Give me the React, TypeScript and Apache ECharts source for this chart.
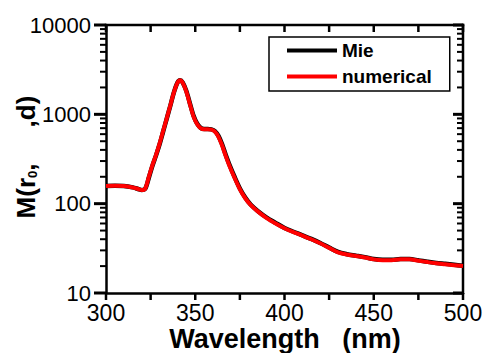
import React, { useEffect, useRef } from "react";
import * as echarts from "echarts";

const wavelength = [300, 305, 310, 315, 318, 320, 322, 324, 326, 328, 330, 332, 334, 336, 338, 340, 341.5, 343, 345, 347, 349, 351, 353, 355, 357, 359, 361, 363, 365, 367, 369, 372, 375, 378, 381, 385, 390, 395, 400, 405, 410, 415, 420, 425, 430, 435, 440, 445, 450, 455, 460, 465, 470, 475, 480, 485, 490, 495, 500];
const numerical = [158, 159, 158, 152, 146, 142, 148, 200, 270, 350, 470, 650, 900, 1250, 1750, 2250, 2400, 2250, 1800, 1300, 950, 780, 700, 680, 680, 675, 640, 560, 450, 345, 270, 195, 145, 115, 97, 82, 69, 60, 53, 48, 44, 40, 36, 32, 28.5, 27, 26, 25, 23.8, 23.3, 23.3, 23.8, 23.8, 23, 22.2, 21.5, 21, 20.5, 20];
const mie = [158, 159, 158, 152, 146, 142, 147, 195, 265, 345, 460, 640, 890, 1240, 1750, 2260, 2410, 2270, 1830, 1330, 970, 790, 705, 685, 685, 680, 650, 575, 465, 355, 278, 200, 148, 117, 98, 83, 70, 61, 53.5, 48.5, 44.3, 40.3, 36.3, 32.3, 28.8, 27.2, 26.2, 25.2, 24, 23.5, 23.5, 24, 24, 23.2, 22.4, 21.7, 21.2, 20.7, 20.2];
const xLabelTicks = [300, 350, 400, 450, 500];
const xAllTicks = [300, 325, 350, 375, 400, 425, 450, 475, 500];
const yMajorTicks = [10, 100, 1000, 10000];
const yMinorTicks = [20, 30, 40, 50, 60, 70, 80, 90, 200, 300, 400, 500, 600, 700, 800, 900, 2000, 3000, 4000, 5000, 6000, 7000, 8000, 9000];

const FONT = "Liberation Sans, Arial, sans-serif";

export default function App() {
  const ref = useRef<HTMLDivElement>(null);
  useEffect(() => {
    if (!ref.current) return;
    const chart = echarts.init(ref.current, null, { renderer: "svg" });
    const xMin = 300, xMax = 500, yMin = 10, yMax = 10000;
    const titles: any[] = [
      {
        type: "text",
        x: 285,
        y: 339,
        silent: true,
        style: { text: "Wavelength   (nm)", font: `bold 27px ${FONT}`, fill: "#000", align: "center", verticalAlign: "middle" },
      },
      {
        type: "text",
        x: 26,
        y: 157,
        rotation: Math.PI / 2,
        silent: true,
        style: {
          text: "{a|M(r}{s|0}{a|,     ,d)}",
          align: "center",
          verticalAlign: "middle",
          rich: {
            a: { fontFamily: FONT, fontSize: 26, fontWeight: "bold", fill: "#000", color: "#000" },
            s: { fontFamily: FONT, fontSize: 13, fontWeight: "bold", fill: "#000", color: "#000", verticalAlign: "bottom", padding: [12, 0, 0, 0] },
          },
        },
      },
    ];
    chart.setOption({
      animation: false,
      backgroundColor: "#fff",
      grid: { left: 106, right: 23, top: 25, bottom: 60, containLabel: false, outerBoundsMode: "none" },
      legend: {
        left: 269,
        top: 37,
        orient: "vertical",
        icon: "rect",
        itemWidth: 50,
        itemHeight: 4,
        itemGap: 7,
        padding: [4, 18, 5, 18],
        borderColor: "#000",
        borderWidth: 1.5,
        backgroundColor: "#fff",
        textStyle: { fontFamily: FONT, fontSize: 19, fontWeight: "bold", color: "#000" },
        data: ["Mie", "numerical"],
      },
      xAxis: {
        type: "value",
        min: xMin,
        max: xMax,
        interval: 25,
        splitLine: { show: false },
        axisLine: { show: true, onZero: false, lineStyle: { color: "#000", width: 2.5 } },
        axisTick: { show: false },
        axisLabel: {
          fontFamily: FONT,
          fontSize: 23,
          color: "#000",
          margin: 8,
          formatter: (v: number) => (xLabelTicks.includes(v) ? String(v) : ""),
        },
      },
      yAxis: {
        type: "log",
        logBase: 10,
        min: yMin,
        max: yMax,
        splitLine: { show: false },
        axisLine: { show: true, onZero: false, lineStyle: { color: "#000", width: 2.5 } },
        axisTick: { show: false },
        axisLabel: { fontFamily: FONT, fontSize: 22, color: "#000", margin: 15, formatter: (v: number) => String(v) },
      },
      graphic: { elements: titles },
      series: [
        {
          name: "Mie",
          type: "line",
          data: wavelength.map((x, i) => [x, mie[i]]),
          showSymbol: false,
          smooth: 0.3,
          color: "#000",
          lineStyle: { color: "#000", width: 4.5 },
          z: 2,
        },
        {
          name: "numerical",
          type: "line",
          data: wavelength.map((x, i) => [x, numerical[i]]),
          showSymbol: false,
          smooth: 0.3,
          color: "#ff0000",
          lineStyle: { color: "#ff0000", width: 4 },
          z: 3,
        },
      ],
    });

    const finder = { xAxisIndex: 0, yAxisIndex: 0 };
    const toPx = (x: number, y: number) => chart.convertToPixel(finder, [x, y]) as number[];
    const [pxL, pyB] = toPx(xMin, yMin);
    const [pxR, pyT] = toPx(xMax, yMax);
    const frame: any[] = [];
    const bar = (x: number, y: number, w: number, h: number) =>
      frame.push({ type: "rect", silent: true, shape: { x, y, width: w, height: h }, style: { fill: "#000" } });
    bar(pxL - 1.25, pyT - 1.25, pxR - pxL + 2.5, 2.5);
    bar(pxR - 1.25, pyT - 1.25, 2.5, pyB - pyT + 2.5);
    xAllTicks.forEach((v) => {
      const px = toPx(v, yMin)[0];
      bar(px - 1.25, pyB, 2.5, 7);
      bar(px - 1.25, pyT, 2.5, 7);
    });
    yMajorTicks.forEach((v) => {
      const py = toPx(xMin, v)[1];
      bar(pxL - 12, py - 1.5, 12, 3);
      bar(pxR - 10, py - 1.5, 10, 3);
    });
    yMinorTicks.forEach((v) => {
      const py = toPx(xMin, v)[1];
      bar(pxL - 6, py - 1, 6, 2);
      bar(pxR - 6, py - 1, 6, 2);
    });
    chart.setOption({ graphic: { elements: [...titles, ...frame] } });

    return () => chart.dispose();
  }, []);
  return <div ref={ref} style={{ width: 486, height: 353, position: "absolute", left: 0, top: 0 }} />;
}
